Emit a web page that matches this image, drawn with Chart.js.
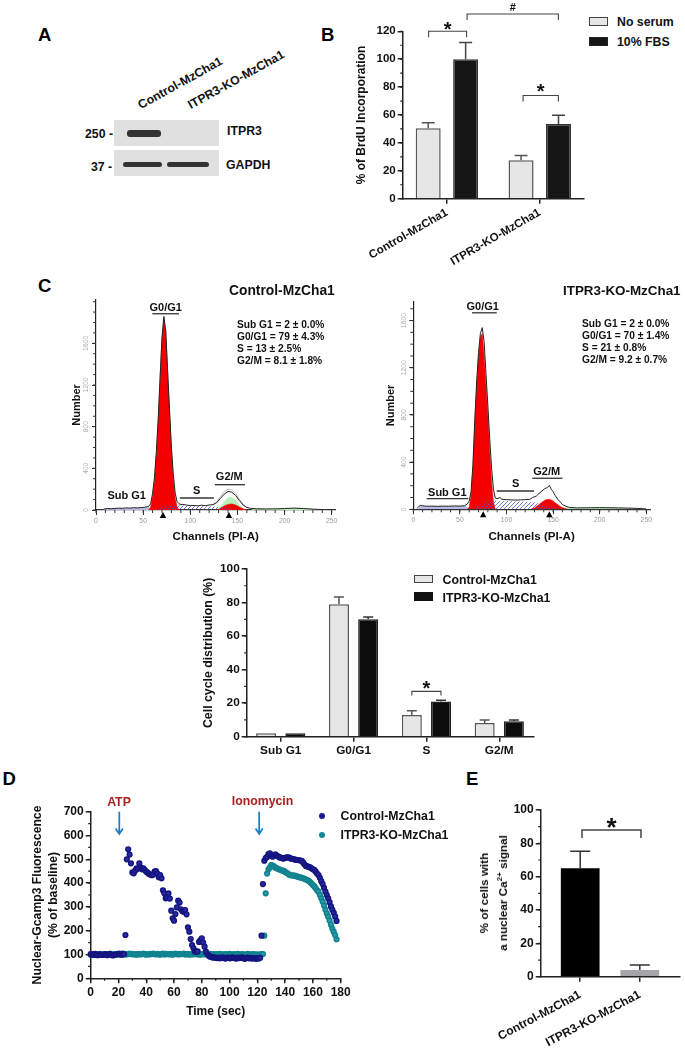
<!DOCTYPE html>
<html lang="en">
<head>
<meta charset="utf-8">
<title>ITPR3 knockout in MzCha1 cells</title>
<script src="https://cdn.jsdelivr.net/npm/chart.js@4/dist/chart.umd.js"></script>
<style>
  html, body { margin: 0; background: #fff; }
  #page { position: relative; width: 685px; height: 1050px; overflow: hidden; font-family: "Liberation Sans", Arial, sans-serif; }
  canvas { position: absolute; }
  .t { position: absolute; z-index: 2; font-weight: bold; font-size: 12.3px; line-height: 1; color: #111; white-space: nowrap; transform: translateY(-50%); }
  .c { transform: translate(-50%, -50%); }
  .letter { font-size: 18.5px; color: #000; }
  .stat { font-size: 10.2px; }
  .hist { font-size: 11px; }
  .slant { transform-origin: left center; transform: translateY(-50%) rotate(-29deg); }
  .sw { position: absolute; z-index: 2; box-sizing: border-box; border: 1.5px solid #444; }
  .dot { position: absolute; z-index: 2; width: 6px; height: 6px; border-radius: 50%; transform: translate(-50%, -50%); }
  .blot { position: absolute; background: #e0e0e0; }
  .band { position: absolute; background: #333; border-radius: 3px; filter: blur(0.6px); }
</style>
</head>
<body>
<div id="page">
  <!-- panel letters -->
  <div class="t letter" style="left:38px;top:35px">A</div>
  <div class="t letter" style="left:321px;top:35px">B</div>
  <div class="t letter" style="left:38px;top:286px">C</div>
  <div class="t letter" style="left:2.5px;top:779px">D</div>
  <div class="t letter" style="left:466px;top:779px">E</div>

  <!-- A: western blot -->
  <div class="t slant" style="left:139px;top:106px">Control-MzCha1</div>
  <div class="t slant" style="left:189px;top:106px">ITPR3-KO-MzCha1</div>
  <div class="blot" style="left:114px;top:120px;width:105px;height:26px"></div>
  <div class="blot" style="left:114px;top:150px;width:105px;height:26px"></div>
  <div class="band" style="left:127px;top:130px;width:34px;height:6.5px"></div>
  <div class="band" style="left:123px;top:161.5px;width:38.5px;height:5px"></div>
  <div class="band" style="left:167px;top:161.5px;width:42px;height:5px"></div>
  <div class="t" style="left:85px;top:134px">250 -</div>
  <div class="t" style="left:91px;top:167px">37 -</div>
  <div class="t" style="left:227px;top:131px">ITPR3</div>
  <div class="t" style="left:226px;top:165px">GAPDH</div>

  <!-- B legend -->
  <div class="sw" style="left:589px;top:17px;width:18.5px;height:9px;background:#e6e6e6"></div>
  <div class="sw" style="left:589px;top:37px;width:18.5px;height:8.5px;background:#161616;border-color:#222"></div>
  <div class="t" style="left:617px;top:22px">No serum</div>
  <div class="t" style="left:617px;top:42px">10% FBS</div>

  <!-- C histogram labels -->
  <div class="t" style="left:229px;top:291px;font-size:13.8px">Control-MzCha1</div>
  <div class="t" style="left:563px;top:291px;font-size:13.4px">ITPR3-KO-MzCha1</div>
  <div class="t stat" style="left:237px;top:324.5px">Sub G1 = 2 ± 0.0%</div>
  <div class="t stat" style="left:237px;top:336.7px">G0/G1 = 79 ± 4.3%</div>
  <div class="t stat" style="left:237px;top:348.7px">S = 13 ± 2.5%</div>
  <div class="t stat" style="left:237px;top:361px">G2/M = 8.1 ± 1.8%</div>
  <div class="t stat" style="left:582px;top:323.5px">Sub G1 = 2 ± 0.0%</div>
  <div class="t stat" style="left:582px;top:335.7px">G0/G1 = 70 ± 1.4%</div>
  <div class="t stat" style="left:582px;top:348px">S = 21 ± 0.8%</div>
  <div class="t stat" style="left:582px;top:360px">G2/M = 9.2 ± 0.7%</div>
  <div class="t hist c" style="left:165.7px;top:306.7px">G0/G1</div>
  <div class="t hist c" style="left:126.7px;top:495.3px">Sub G1</div>
  <div class="t hist c" style="left:196.7px;top:490px">S</div>
  <div class="t hist c" style="left:229.3px;top:476px">G2/M</div>
  <div class="t hist c" style="left:482.7px;top:306px">G0/G1</div>
  <div class="t hist c" style="left:447.3px;top:491.7px">Sub G1</div>
  <div class="t hist c" style="left:515.7px;top:482.7px">S</div>
  <div class="t hist c" style="left:546.7px;top:471.3px">G2/M</div>

  <!-- C bar legend -->
  <div class="sw" style="left:414px;top:574.5px;width:19px;height:8.5px;background:#e6e6e6"></div>
  <div class="sw" style="left:414px;top:592px;width:19px;height:8.5px;background:#111;border-color:#111"></div>
  <div class="t" style="left:442.5px;top:579.5px">Control-MzCha1</div>
  <div class="t" style="left:442.5px;top:597.5px">ITPR3-KO-MzCha1</div>

  <!-- D legend and stimulus names -->
  <div class="t c" style="left:119px;top:802px;color:#a82020">ATP</div>
  <div class="t c" style="left:262.5px;top:801px;color:#a82020">Ionomycin</div>
  <div class="dot" style="left:321.7px;top:815.7px;background:#1c1c8e"></div>
  <div class="dot" style="left:321.7px;top:835px;background:#14899a"></div>
  <div class="t" style="left:340.5px;top:816px">Control-MzCha1</div>
  <div class="t" style="left:340.5px;top:835px">ITPR3-KO-MzCha1</div>

  <!-- E y axis title, needs a real superscript -->
  <div class="t c" style="left:493px;top:892.5px;transform:translate(-50%,-50%) rotate(-90deg);text-align:center;line-height:19px;font-size:11.7px">% of cells with<br>a nuclear Ca<sup style="font-size:8px;line-height:0">2+</sup> signal</div>

  <canvas id="chartB"></canvas>
  <canvas id="chartC1"></canvas>
  <canvas id="chartC2"></canvas>
  <canvas id="chartC3"></canvas>
  <canvas id="chartD"></canvas>
  <canvas id="chartE"></canvas>
</div>

<script>
// ---- Panel B
const brduCats = ["Control-MzCha1", "ITPR3-KO-MzCha1"];
const brduNoSerum = [50.5, 27.5];
const brduFbs = [100, 53.5];
const brduNoSerumErr = [4, 3.5];
const brduFbsErr = [12, 6.3];

// ---- Panel C, histogram of control cells (channels / counts)
const histYTicks = [0, 400, 800, 1200, 1600];
const ctrlCh = [8,12,16,20,24,28,32,36,40,44,48,52,56,58,60,62,64,66,68,70,72,74,76,78,80,82,84,86,88,90,92,96,100,104,108,112,116,120,124,128,132,136,140,144,148,152,156,160,164,170,180,190,200,210,220,230,240,250];
const ctrlTotal = [8,14,12,15,18,16,20,18,22,20,24,26,36,60,160,310,560,880,1280,1660,1858,1720,1330,960,600,340,160,80,60,52,54,48,42,44,40,46,42,48,52,70,112,152,178,172,140,92,48,24,16,12,10,11,14,18,14,8,4,0];
const ctrlFitCh = [124,128,132,136,140,144,148,152,156,160];
const ctrlFit = [40,80,130,175,200,195,160,105,55,20];
const ctrlG1Ch = [56,58,60,62,64,66,68,70,72,74,76,78,80,82,84,86,88];
const ctrlG1 = [0,30,130,280,530,850,1250,1640,1840,1700,1300,930,560,290,110,30,0];
const ctrlG2Ch = [128,132,136,140,144,148,152,156,160];
const ctrlG2 = [0,15,38,54,58,48,28,10,0];
const ctrlGreenCh = [130,134,138,142,146,150,154,158];
const ctrlGreen = [15,55,100,125,112,70,30,5];
const ctrlSCh = [60,66,70,74,78,82,88,95,105,115,125,132,140,146,150];
const ctrlS = [0,5,18,30,38,42,42,38,36,34,30,25,12,4,0];
const ctrlSubCh = [8,12,20,30,40,50,56,60];
const ctrlSub = [6,12,14,15,17,20,24,0];
const ctrlDebrisCh = [165,175,190,200,210,220,230,240,245];
const ctrlDebris = [8,8,10,14,18,14,8,3,0];
const ctrlPeaks = [71, 141];

// ---- Panel C, histogram of knockout cells
const koCh = [4,6,8,10,14,20,26,32,38,44,50,55,58,60,62,64,66,68,70,72,74,76,78,80,82,84,86,88,90,93,95,100,105,110,115,120,125,128,132,135,138,141,144,146,148,150,152,155,158,160,164,168,175,190,200,220,240,250];
const koTotal = [8,25,34,30,26,27,25,27,26,28,27,30,45,70,150,380,760,1080,1330,1490,1540,1420,1150,880,600,350,170,95,90,100,85,82,80,78,80,82,85,100,112,135,155,175,185,203,170,150,120,85,60,40,25,15,12,13,14,12,8,3];
const koG1Ch = [58,60,62,64,66,68,70,72,74,76,78,80,82,84,86,88];
const koG1 = [0,20,120,350,730,1050,1300,1460,1490,1300,1050,800,500,230,60,0];
const koG2Ch = [126,130,134,138,142,146,150,154,158,162,166];
const koG2 = [0,12,35,60,80,85,70,45,22,8,0];
const koSCh = [62,66,70,74,78,82,90,100,110,120,130,140,148,155,160];
const koS = [0,8,25,45,62,70,68,66,65,62,55,35,18,6,0];
const koSubCh = [5,8,14,20,30,40,50,56,60];
const koSub = [4,28,22,24,24,24,26,28,0];
const koDebrisCh = [165,180,200,220,240,250];
const koDebris = [10,10,13,11,7,0];
const koPeaks = [75, 146];

// ---- Panel C, bars
const cycleCats = ["Sub G1", "G0/G1", "S", "G2/M"];
const cycleCtrl = [2, 79, 13, 8.1];
const cycleKo = [2, 70, 21, 9.2];
const cycleCtrlErr = [0, 4.3, 2.5, 1.8];
const cycleKoErr = [0, 1.4, 0.8, 0.7];

// ---- Panel D, one frame per second
const timeSec = [0,1,2,3,4,5,6,7,8,9,10,11,12,13,14,15,16,17,18,19,20,21,22,23,24,25,26,27,28,29,30,31,32,33,34,35,36,37,38,39,40,41,42,43,44,45,46,47,48,49,50,51,52,53,54,55,56,57,58,59,60,61,62,63,64,65,66,67,68,69,70,71,72,73,74,75,76,77,78,79,80,81,82,83,84,85,86,87,88,89,90,91,92,93,94,95,96,97,98,99,100,101,102,103,104,105,106,107,108,109,110,111,112,113,114,115,116,117,118,119,120,121,122,123,124,125,126,127,128,129,130,131,132,133,134,135,136,137,138,139,140,141,142,143,144,145,146,147,148,149,150,151,152,153,154,155,156,157,158,159,160,161,162,163,164,165,166,167,168,169,170,171,172,173,174,175,176,177];
const ctrlCalcium = [102,98,100,103,99,97,101,100,98,99,102,100,97,101,103,99,96,98,100,102,101,103,99,104,101,182,500,542,520,483,445,441,452,462,460,483,466,458,462,455,448,444,438,436,433,436,448,450,440,425,434,420,370,357,336,340,357,335,284,252,242,270,298,326,318,290,282,280,287,269,214,196,165,140,126,113,112,113,153,160,168,150,133,112,102,95,91,89,87,88,86,85,87,84,86,88,85,83,86,87,84,85,88,86,84,83,87,85,86,88,84,82,85,87,84,86,83,85,84,82,85,83,86,179,396,494,505,510,522,525,515,511,518,521,515,512,508,507,504,503,506,508,508,507,503,502,501,499,498,497,496,495,494,486,478,472,470,468,466,462,458,456,448,440,434,422,408,396,380,364,350,336,320,302,288,275,260,241];
const koCalcium = [99,101,98,100,102,99,101,103,100,98,101,102,100,99,103,101,100,102,99,101,104,100,102,99,101,103,100,102,104,101,103,100,102,99,101,103,100,102,104,101,99,102,100,103,101,104,102,100,103,101,99,102,104,100,103,101,102,100,103,99,101,104,102,100,103,101,102,104,100,101,103,99,102,100,104,101,103,100,102,99,101,103,100,102,101,99,103,100,102,101,98,102,100,103,99,101,100,102,99,101,103,100,98,102,100,101,103,99,100,102,101,98,100,103,99,101,100,102,99,101,100,98,101,102,102,179,357,440,458,466,476,474,470,465,462,460,457,455,452,451,447,443,440,435,433,433,431,431,429,427,425,424,422,420,418,415,413,409,404,398,392,386,378,370,364,350,336,322,306,288,272,259,243,225,208,195,182,164];
const stimTimes = [20.6, 121.3];

// ---- Panel E
const nuclearCats = ["Control-MzCha1", "ITPR3-KO-MzCha1"];
const nuclearPct = [65, 4];
const nuclearErr = [10.3, 3];

// ---- shared helpers
const FONT = '"Liberation Sans", Arial, sans-serif';
const INK = "#222";
const bold = size => ({ family: FONT, weight: "bold", size });
const xy = (xs, ys) => xs.map((x, i) => ({ x, y: ys[i] }));
const catXY = vals => vals.map((y, i) => ({ x: i + 1, y }));

// places the canvas on the page, returns the padding that puts the plot area on the wanted pixels
function frame(id, box, plot, yW, xH) {
  const cv = document.getElementById(id);
  cv.style.left = box.l + "px";
  cv.style.top = box.t + "px";
  cv.width = box.w;
  cv.height = box.h;
  cv.style.width = box.w + "px";
  cv.style.height = box.h + "px";
  return {
    cv,
    yW, xH,
    padding: {
      left: plot.l - box.l - yW,
      right: box.l + box.w - plot.r,
      top: plot.t - box.t,
      bottom: box.t + box.h - plot.b - xH
    }
  };
}

function pinY(w) {
  return s => { s.width = w; s.paddingTop = s.paddingBottom = s.paddingLeft = s.paddingRight = 0; };
}
function pinX(h) {
  return s => { s.height = h; s.paddingTop = s.paddingBottom = s.paddingLeft = s.paddingRight = 0; };
}

function yAxis(f, step, max, size, title) {
  return {
    min: 0, max,
    afterFit: pinY(f.yW),
    border: { color: INK, width: 1.5 },
    grid: { drawOnChartArea: false, color: INK, lineWidth: 1.5, tickLength: 5 },
    ticks: { stepSize: step, padding: 2, color: "#111", font: bold(size) },
    title: title && {
      display: true, text: title.text, color: "#111",
      padding: 0, font: { ...bold(title.size), lineHeight: title.lh + "px" }
    }
  };
}

// categories on a linear axis so that the margin beside the outer groups can be set
function catAxis(f, labels, pad, rot, size, gap = 2) {
  return {
    type: "linear", bounds: "data", offset: false,
    min: 1 - pad, max: labels.length + pad,
    afterFit: pinX(f.xH),
    afterBuildTicks: s => { s.ticks = labels.map((_, i) => ({ value: i + 1 })); },
    border: { color: INK, width: 1.5 },
    grid: { offset: false, drawOnChartArea: false, color: INK, lineWidth: 1.5, tickLength: 5 },
    ticks: {
      autoSkip: false, minRotation: rot, maxRotation: rot, padding: gap,
      color: "#111", font: bold(size),
      callback: v => labels[v - 1]
    }
  };
}

const noFrills = { legend: { display: false }, tooltip: { enabled: false } };

// whiskers go up only, like the reference
function errorBars(errs, colors, capW) {
  return {
    id: "errorBars",
    afterDatasetsDraw(chart) {
      const { ctx } = chart, y = chart.scales.y;
      errs.forEach((list, d) => {
        chart.getDatasetMeta(d).data.forEach((bar, i) => {
          if (!list[i]) return;
          const top = y.getPixelForValue(chart.data.datasets[d].data[i].y + list[i]);
          ctx.save();
          ctx.strokeStyle = colors[d];
          ctx.lineWidth = 1.5;
          ctx.beginPath();
          ctx.moveTo(bar.x, bar.y);
          ctx.lineTo(bar.x, top);
          ctx.moveTo(bar.x - capW / 2, top);
          ctx.lineTo(bar.x + capW / 2, top);
          ctx.stroke();
          ctx.restore();
        });
      });
    }
  };
}

function minorTicks(list) {
  return {
    id: "minorTicks",
    afterDraw(chart) {
      const { ctx } = chart;
      list.forEach(m => {
        const s = chart.scales[m.axis];
        ctx.save();
        ctx.strokeStyle = m.color || INK;
        ctx.lineWidth = m.width || 1.2;
        ctx.beginPath();
        for (let v = s.min - s.min % m.step; v <= s.max; v += m.step) {
          if (v < s.min) continue;
          const p = s.getPixelForValue(v);
          if (m.axis === "y") { ctx.moveTo(s.right, p); ctx.lineTo(s.right - m.len, p); }
          else { ctx.moveTo(p, s.top); ctx.lineTo(p, s.top + m.len); }
        }
        ctx.stroke();
        ctx.restore();
      });
    }
  };
}

// significance brackets and the plain lines over the histogram gates
function brackets(list) {
  return {
    id: "brackets",
    afterDraw(chart) {
      const { ctx, scales: { x, y } } = chart;
      list.forEach(b => {
        const x1 = x.getPixelForValue(b.from), x2 = x.getPixelForValue(b.to), yy = y.getPixelForValue(b.at);
        ctx.save();
        ctx.strokeStyle = b.color || "#444";
        ctx.lineWidth = b.width || 1.1;
        ctx.beginPath();
        ctx.moveTo(x1, yy + (b.leg || 0));
        ctx.lineTo(x1, yy);
        ctx.lineTo(x2, yy);
        ctx.lineTo(x2, yy + (b.leg || 0));
        ctx.stroke();
        if (b.mark) {
          ctx.fillStyle = "#111";
          ctx.font = "bold " + b.size + "px " + FONT;
          ctx.textAlign = "center";
          ctx.fillText(b.mark, (x1 + x2) / 2, yy + b.dy);
        }
        ctx.restore();
      });
    }
  };
}

function peakMarkers(channels) {
  return {
    id: "peakMarkers",
    afterDraw(chart) {
      const { ctx, scales: { x, y } } = chart, base = y.getPixelForValue(0);
      ctx.save();
      ctx.fillStyle = "#000";
      channels.forEach(c => {
        const p = x.getPixelForValue(c);
        ctx.beginPath();
        ctx.moveTo(p, base + 2);
        ctx.lineTo(p - 3.2, base + 8);
        ctx.lineTo(p + 3.2, base + 8);
        ctx.fill();
      });
      ctx.restore();
    }
  };
}

function stimArrows(times) {
  return {
    id: "stimArrows",
    afterDraw(chart) {
      const { ctx, scales: { x, y } } = chart;
      ctx.save();
      ctx.strokeStyle = "#1a7dc0";
      ctx.lineWidth = 1.7;
      times.forEach(t => {
        const p = x.getPixelForValue(t), a = y.getPixelForValue(700), b = y.getPixelForValue(606);
        ctx.beginPath();
        ctx.moveTo(p, a);
        ctx.lineTo(p, b);
        ctx.moveTo(p - 3.6, b - 5.5);
        ctx.lineTo(p, b);
        ctx.lineTo(p + 3.6, b - 5.5);
        ctx.stroke();
      });
      ctx.restore();
    }
  };
}

function hatch() {
  const c = document.createElement("canvas");
  c.width = c.height = 4;
  const g = c.getContext("2d");
  g.strokeStyle = "#5050d0";
  g.lineWidth = 0.8;
  g.beginPath();
  g.moveTo(-1, 1); g.lineTo(1, -1);
  g.moveTo(0, 4); g.lineTo(4, 0);
  g.moveTo(3, 5); g.lineTo(5, 3);
  g.stroke();
  return g.createPattern(c, "repeat");
}

const area = (data, fillColor) => ({
  data, fill: "origin", pointRadius: 0, tension: 0,
  borderWidth: 0.6, borderColor: fillColor, backgroundColor: fillColor
});
const trace = (data, color, w) => ({
  data, fill: false, pointRadius: 0, tension: 0, borderWidth: w, borderColor: color
});

// histogram panels have grey tick labels and dense ticks
function histChart(f, maxY, maxX, datasets, extra) {
  return new Chart(f.cv, {
    type: "line",
    data: { datasets },
    options: {
      responsive: false, animation: false, events: [],
      layout: { padding: f.padding },
      plugins: noFrills,
      scales: {
        x: {
          type: "linear", min: 0, max: maxX, afterFit: pinX(f.xH),
          border: { color: "#333", width: 1.2 },
          grid: { drawOnChartArea: false, color: "#333", tickLength: 5 },
          ticks: { stepSize: 50, includeBounds: false, padding: 2, color: "#999", font: { family: FONT, size: 6.8 }, maxRotation: 0 },
          title: { display: true, text: "Channels (PI-A)", color: "#111", padding: 0, font: { ...bold(11.6), lineHeight: "13px" } }
        },
        y: {
          min: 0, max: maxY, afterFit: pinY(f.yW),
          afterBuildTicks: s => { s.ticks = histYTicks.map(value => ({ value })); },
          border: { color: "#222", width: 1.2 },
          grid: { drawOnChartArea: false, color: "#333", tickLength: 4 },
          ticks: {
            minRotation: 90, maxRotation: 90,
            crossAlign: "center", padding: -2, color: "#aaa", font: { family: FONT, size: 6.8 },
            callback: v => String(v)
          },
          title: { display: true, text: "Number", color: "#111", padding: 0, font: { ...bold(11), lineHeight: "13px" } }
        }
      }
    },
    plugins: [
      minorTicks([{ axis: "x", step: 10, len: 3, color: "#333", width: 1 }, { axis: "y", step: 100, len: 3, color: "#333", width: 1 }]),
      peakMarkers(extra.peaks),
      brackets(extra.gates)
    ]
  });
}

// ---- B
const fB = frame("chartB", { l: 340, t: 0, w: 248, h: 270 }, { l: 402.7, t: 31.3, r: 584, b: 198.7 }, 48, 68);
new Chart(fB.cv, {
  type: "bar",
  data: {
    datasets: [
      { data: catXY(brduNoSerum), backgroundColor: "#e6e6e6", borderColor: "#555", borderWidth: 1.5, categoryPercentage: 0.806, barPercentage: 0.667 },
      { data: catXY(brduFbs), backgroundColor: "#161616", borderColor: "#333", borderWidth: 1.5, categoryPercentage: 0.806, barPercentage: 0.667 }
    ]
  },
  options: {
    responsive: false, animation: false, events: [],
    layout: { padding: fB.padding },
    plugins: noFrills,
    scales: {
      x: catAxis(fB, brduCats, 0.476, 30, 11.6),
      y: yAxis(fB, 20, 120, 11.5, { text: "% of BrdU Incorporation", size: 12, lh: 14 })
    }
  },
  plugins: [
    errorBars([brduNoSerumErr, brduFbsErr], ["#555", "#444"], 13),
    minorTicks([{ axis: "y", step: 10, len: 2.5 }]),
    brackets([
      { from: 0.803, to: 1.212, at: 120, leg: 6, mark: "*", size: 20, dy: 5 },
      { from: 1.217, to: 2.2, at: 132.4, leg: 6, mark: "#", size: 11, dy: -3 },
      { from: 1.82, to: 2.2, at: 74, leg: 6, mark: "*", size: 20, dy: 3 }
    ])
  ]
});

// ---- C histograms
const fC1 = frame("chartC1", { l: 62, t: 295, w: 290, h: 250 }, { l: 96, t: 300, r: 335.5, b: 510 }, 25.8, 33.2);
histChart(fC1, 2016, 254, [
  trace(xy(ctrlCh, ctrlTotal), "#222", 1),
  area(xy(ctrlSCh, ctrlS), hatch()),
  area(xy(ctrlG1Ch, ctrlG1), "#f40000"),
  area(xy(ctrlG2Ch, ctrlG2), "#f40000"),
  area(xy(ctrlGreenCh, ctrlGreen), "#b8f0b8"),
  trace(xy(ctrlFitCh, ctrlFit), "#bbb", 1),
  area(xy(ctrlSubCh, ctrlSub), "#b9b9ea"),
  area(xy(ctrlDebrisCh, ctrlDebris), "#b8f0b8")
], {
  peaks: ctrlPeaks,
  gates: [
    { from: 59.7, to: 88, at: 1884, color: "#333", width: 1.3 },
    { from: 89, to: 125, at: 115, color: "#333", width: 1.3 },
    { from: 126, to: 158, at: 243, color: "#333", width: 1.3 }
  ]
});

const fC2 = frame("chartC2", { l: 378, t: 295, w: 290, h: 250 }, { l: 413.3, t: 301.7, r: 650, b: 509.3 }, 28.5, 33.9);
histChart(fC2, 1760, 254, [
  trace(xy(koCh, koTotal), "#222", 1),
  area(xy(koSCh, koS), hatch()),
  area(xy(koG1Ch, koG1), "#f40000"),
  area(xy(koG2Ch, koG2), "#f40000"),
  area(xy(koSubCh, koSub), "#b9b9ea"),
  area(xy(koDebrisCh, koDebris), "#b8f0b8")
], {
  peaks: koPeaks,
  gates: [
    { from: 63, to: 89.5, at: 1666, color: "#333", width: 1.3 },
    { from: 14.4, to: 59, at: 90, color: "#333", width: 1.3 },
    { from: 89.5, to: 129.5, at: 155, color: "#333", width: 1.3 },
    { from: 127.7, to: 160, at: 263, color: "#333", width: 1.3 }
  ]
});

// ---- C bars
const fC3 = frame("chartC3", { l: 196, t: 555, w: 345, h: 205 }, { l: 246.7, t: 569, r: 533.3, b: 736.7 }, 45.4, 22);
new Chart(fC3.cv, {
  type: "bar",
  data: {
    datasets: [
      { data: catXY(cycleCtrl), backgroundColor: "#e6e6e6", borderColor: "#555", borderWidth: 1.5, categoryPercentage: 0.802, barPercentage: 0.685 },
      { data: catXY(cycleKo), backgroundColor: "#0c0c0c", borderColor: "#222", borderWidth: 1.5, categoryPercentage: 0.802, barPercentage: 0.685 }
    ]
  },
  options: {
    responsive: false, animation: false, events: [],
    layout: { padding: fC3.padding },
    plugins: noFrills,
    scales: {
      x: catAxis(fC3, cycleCats, 0.467, 0, 11.8),
      y: yAxis(fC3, 20, 100, 11.8, { text: "Cell cycle distribution (%)", size: 12.3, lh: 14 })
    }
  },
  plugins: [
    errorBars([cycleCtrlErr, cycleKoErr], ["#555", "#333"], 10),
    minorTicks([{ axis: "y", step: 10, len: 2.5 }]),
    brackets([{ from: 2.8, to: 3.2, at: 27, leg: 4, mark: "*", size: 20, dy: 4 }])
  ]
});

// ---- D
const fD = frame("chartD", { l: 26, t: 795, w: 325, h: 235 }, { l: 90.7, t: 811.7, r: 340.7, b: 978.3 }, 61.4, 40.4);
new Chart(fD.cv, {
  type: "scatter",
  data: {
    datasets: [
      { data: xy(timeSec, ctrlCalcium), pointRadius: 2.4, pointBorderWidth: 1.4, pointBackgroundColor: "#2a2aa0", pointBorderColor: "#14147f", clip: false },
      { data: xy(timeSec, koCalcium), pointRadius: 2.4, pointBorderWidth: 1.4, pointBackgroundColor: "#2a98a6", pointBorderColor: "#10828f", clip: false }
    ]
  },
  options: {
    responsive: false, animation: false, events: [],
    layout: { padding: fD.padding },
    plugins: noFrills,
    scales: {
      x: {
        type: "linear", min: 0, max: 180, afterFit: pinX(fD.xH),
        border: { color: INK, width: 1.5 },
        grid: { drawOnChartArea: false, color: INK, lineWidth: 1.5, tickLength: 5 },
        ticks: { stepSize: 20, padding: 2, color: "#111", maxRotation: 0, font: bold(12) },
        title: { display: true, text: "Time (sec)", color: "#111", padding: 0, font: { ...bold(12), lineHeight: "14px" } }
      },
      y: yAxis(fD, 100, 700, 12, { text: ["Nuclear-Gcamp3 Fluorescence", "(% of baseline)"], size: 12.2, lh: 16 })
    }
  },
  plugins: [
    minorTicks([{ axis: "y", step: 50, len: 2.5 }, { axis: "x", step: 10, len: 2.5 }]),
    stimArrows(stimTimes)
  ]
});

// ---- E
const fE = frame("chartE", { l: 480, t: 795, w: 205, h: 255 }, { l: 540.7, t: 810, r: 679.3, b: 976.7 }, 30.7, 73.3);
new Chart(fE.cv, {
  type: "bar",
  data: {
    datasets: [{
      data: catXY(nuclearPct),
      backgroundColor: ["#000", "#a6a6a8"],
      categoryPercentage: 1, barPercentage: 0.65
    }]
  },
  options: {
    responsive: false, animation: false, events: [],
    layout: { padding: fE.padding },
    plugins: noFrills,
    scales: {
      x: catAxis(fE, nuclearCats, 0.663, 28, 12, 6),
      y: yAxis(fE, 20, 100, 12)
    }
  },
  plugins: [
    errorBars([nuclearErr], ["#333"], 20),
    minorTicks([{ axis: "y", step: 10, len: 2.5 }]),
    brackets([{ from: 1.03, to: 2.02, at: 88, leg: 8, mark: "*", size: 26, dy: 6, width: 1.5 }])
  ]
});
</script>
</body>
</html>
